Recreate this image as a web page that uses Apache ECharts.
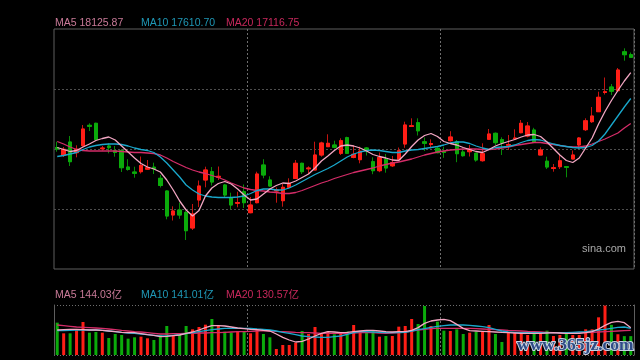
<!DOCTYPE html>
<html><head><meta charset="utf-8">
<script src="https://cdn.jsdelivr.net/npm/echarts@6/dist/echarts.min.js"></script>
<style>html,body{margin:0;padding:0;background:#000}#c{width:640px;height:360px}</style>
</head><body><div id="c"></div>
<script>
// ---- data ----
const categories = Array.from({length: 90}, (_, i) => 'D' + (i + 1));

const opens = [16630,16480,16740,16526,16666,17074,17114,16604,16660,16566,
16570,16240,16140,16146,16196,16236,16014,15760,15280,15380,
15330,15020,15580,15980,16146,16036,15880,15630,15514,15746,
15326,15526,16280,15980,15760,15566,15834,16010,16314,16204,
16180,16480,16646,16680,16514,16826,16430,16386,16620,16346,
16166,16396,16264,16394,16700,17050,17126,16744,16690,16614,
16546,16766,16746,16540,16546,16514,16366,16794,16914,16786,
16674,16806,16926,16860,16980,16480,16356,16210,16246,16246,
16400,16680,16986,17146,17346,17730,17840,17766,18544,18486];
const closes = [16600,16594,16346,16594,17000,17054,16790,16620,16626,16530,
16226,16190,16114,16270,16224,16206,15870,15260,15360,15280,
14966,15300,15860,16180,15940,16054,15680,15480,15530,15526,
15480,16100,16080,15860,15780,15834,15914,16314,16146,16220,
16480,16720,16714,16634,16766,16514,16494,16556,16564,16166,
16430,16220,16326,16566,17080,17066,16964,16714,16710,16526,
16530,16840,16506,16466,16594,16380,16506,16900,16726,16720,
16690,16820,17114,17060,16736,16580,16240,16226,16364,16234,
16480,16820,17164,17260,17634,17746,17756,18180,18486,18434];
const lows = [16546,16440,16260,16434,16646,16960,16780,16566,16514,16446,
16140,16166,16026,16110,16180,16100,15830,15194,15170,15204,
14780,14980,15440,15834,15870,15980,15630,15394,15434,15420,
15314,15514,16014,15846,15526,15446,15814,16000,16100,16100,
16180,16446,16646,16614,16480,16500,16414,16314,16470,16096,
16136,16126,16240,16360,16624,17040,16870,16560,16614,16514,
16424,16746,16336,16446,16450,16346,16346,16780,16680,16480,
16580,16780,16914,16834,16726,16480,16200,16146,16200,16034,
16394,16604,16960,17120,17346,17690,17680,17766,18366,18434];
const highs = [16746,16640,16860,16674,17080,17114,17126,16660,16714,16660,
16600,16396,16246,16450,16380,16326,16080,15770,15454,15526,
15360,15500,15970,16246,16240,16250,15900,15726,15746,15890,
15640,16146,16396,16054,15830,15900,16014,16380,16326,16254,
16746,16746,16894,16766,16814,16846,16670,16646,16640,16434,
16530,16500,16460,16630,17146,17214,17214,16830,16794,16646,
16646,16956,16780,16614,16680,16530,16714,17000,16930,16834,
16880,16994,17180,17140,17024,16634,16446,16300,16500,16246,
16570,16840,17214,17440,17746,18030,17900,18220,18614,18530];

const ma5 = [16630,16590,16550,16570,16640,16700,16770,16810,16840,16780,
16660,16540,16420,16310,16240,16200,16140,15980,15780,15560,
15380,15260,15370,15660,15820,15910,15950,15900,15800,15680,
15580,15600,15700,15800,15870,15920,15910,15960,16030,16100,
16220,16360,16460,16570,16660,16680,16660,16620,16560,16490,
16450,16420,16380,16370,16500,16650,16780,16870,16910,16850,
16750,16710,16680,16630,16590,16550,16530,16590,16660,16710,
16750,16790,16840,16880,16890,16850,16740,16610,16480,16370,
16330,16420,16620,16820,17100,17350,17570,17770,17960,18126];
const ma10 = [16450,16470,16500,16530,16590,16640,16670,16690,16700,16700,
16690,16660,16620,16590,16570,16530,16440,16320,16180,16040,
15880,15780,15700,15660,15640,15630,15630,15630,15640,15660,
15710,15770,15800,15800,15780,15780,15820,15880,15950,16020,
16090,16150,16210,16280,16360,16440,16500,16540,16570,16580,
16570,16550,16530,16530,16560,16580,16590,16610,16630,16650,
16680,16720,16740,16740,16710,16660,16620,16590,16630,16640,
16650,16680,16730,16770,16790,16780,16740,16700,16670,16650,
16630,16620,16630,16670,16760,16900,17080,17260,17440,17610];
const ma20 = [16750,16700,16640,16590,16570,16560,16560,16560,16560,16560,
16550,16540,16530,16530,16520,16510,16480,16420,16350,16290,
16230,16180,16140,16110,16070,16030,15980,15920,15870,15820,
15790,15770,15760,15740,15730,15710,15710,15730,15770,15820,
15870,15920,15960,16010,16050,16090,16130,16160,16190,16220,
16260,16290,16320,16340,16370,16400,16440,16480,16510,16540,
16560,16580,16590,16600,16600,16600,16590,16590,16600,16620,
16640,16670,16690,16710,16730,16730,16710,16690,16670,16650,
16640,16640,16660,16700,16750,16800,16860,16920,17020,17110];

// volume in 亿
const volumes = [171.4,114.9,114.9,136.1,174.9,118.4,121.9,118.4,90.1,111.3,
106.0,86.6,93.7,97.2,88.4,79.5,106.0,153.7,100.7,106.0,
153.7,136.1,148.4,160.8,190.8,153.7,123.7,118.4,127.2,123.7,
114.9,136.1,111.3,93.7,31.8,53.0,53.0,65.4,127.2,111.3,
148.4,114.9,123.7,109.6,114.9,123.7,159.0,123.7,123.7,129.0,
97.2,100.7,100.7,150.2,153.7,190.8,164.3,259.7,153.7,176.7,
129.0,127.2,136.1,111.3,118.4,123.7,123.7,159.0,111.3,68.9,
118.4,118.4,118.4,106.0,123.7,118.4,129.0,100.7,106.0,114.9,
106.0,106.0,136.1,136.1,199.7,262.0,160.0,110.0,100.0,100.0];
const volMa5 = [132.5,134.3,136.0,136.0,134.3,132.5,132.5,130.7,127.2,123.7,
120.1,118.4,118.4,113.1,107.8,104.2,97.2,98.9,102.5,106.0,
114.8,121.9,132.5,144.9,155.5,155.5,153.7,148.4,143.1,139.6,
136.0,134.3,130.7,127.2,111.3,93.6,79.5,68.9,72.4,84.8,
100.7,114.8,123.7,121.9,118.4,120.1,123.7,127.2,130.7,130.7,
127.2,123.7,121.9,123.7,123.7,130.7,144.9,167.8,180.2,185.5,
189.0,182.0,162.5,141.3,129.0,127.2,125.4,123.7,121.9,120.1,
118.4,116.6,114.8,114.8,114.8,114.8,116.6,118.4,116.6,114.8,
114.8,114.8,118.4,123.7,137.8,157.2,173.1,178.4,171.4,144.0];
const volMa10 = [129.0,129.0,130.7,132.5,132.5,132.5,132.5,130.7,127.2,123.7,
120.1,116.6,114.8,111.3,107.8,104.2,100.7,100.7,104.2,107.8,
113.1,118.4,123.7,129.0,134.3,137.8,141.3,141.3,141.3,141.3,
141.3,137.8,136.0,132.5,127.2,120.1,114.8,107.8,100.7,97.2,
95.4,93.6,93.6,97.2,100.7,109.5,118.4,123.7,123.7,121.9,
120.1,118.4,118.4,118.4,120.1,127.2,134.3,139.6,146.6,151.9,
155.5,159.0,159.0,159.0,157.2,153.7,150.2,144.9,136.0,127.2,
121.9,120.1,118.4,118.4,118.4,118.4,118.4,118.4,118.4,118.4,
120.1,121.9,123.7,127.2,132.5,136.0,141.3,146.6,148.4,141.0];
const volMa20 = [159.0,155.5,151.9,148.4,146.6,144.9,143.1,141.3,137.8,134.3,
130.7,127.2,123.7,121.9,118.4,114.8,111.3,111.3,113.1,113.1,
114.8,114.8,116.6,116.6,118.4,118.4,120.1,121.9,123.7,123.7,
125.4,127.2,129.0,127.2,125.4,123.7,121.9,120.1,118.4,118.4,
116.6,114.8,114.8,114.8,114.8,114.8,116.6,118.4,118.4,118.4,
116.6,114.8,116.6,118.4,121.9,127.2,132.5,136.0,139.6,141.3,
141.3,141.3,141.3,141.3,141.3,139.6,137.8,136.0,134.3,132.5,
130.7,129.0,127.2,125.4,123.7,121.9,120.1,118.4,116.6,114.8,
116.6,118.4,118.4,120.1,121.9,123.7,125.4,127.2,129.0,130.6];

const priceLegend = ['MA5 18125.87', 'MA10 17610.70', 'MA20 17116.75'];
const volumeLegend = ['MA5 144.03亿', 'MA10 141.01亿', 'MA20 130.57亿'];
const watermarkText = 'www.365jz.com';
const sourceText = 'sina.com';

// ---- styles ----
const RED = '#ff1e16', GREEN = '#0bab0b';
const RED_WICK = '#c41410', GREEN_WICK = '#078c07';
const C_MA5 = '#f2a6c2', C_MA10 = '#19a8cc', C_MA20 = '#d42c68';
const T_MA5 = '#c97a98', T_MA10 = '#1f98b6', T_MA20 = '#c8285c';

const ohlc = opens.map((o, i) => [o, closes[i], lows[i], highs[i]]);
const bodies = opens.map((o, i) => [o, closes[i], Math.min(o, closes[i]), Math.max(o, closes[i])]);
const volData = volumes.map((v, i) => ({ value: v, itemStyle: { color: closes[i] >= opens[i] ? RED : GREEN } }));

const hidden = { axisLine: { show: false }, axisTick: { show: false }, axisLabel: { show: false } };
const vsplit = { show: true, interval: (idx) => idx === 30 || idx === 60, lineStyle: { color: '#6e6e6e', type: [2, 2], width: 1 } };

const chart = echarts.init(document.getElementById('c'), null, { renderer: 'canvas' });
const font = '10.5px "Liberation Sans", Arial, sans-serif';
const legendX = [55, 141, 226];
const graphics = [];
priceLegend.forEach((t, k) => graphics.push({ type: 'text', left: legendX[k], top: 18, style: { text: t, fill: [T_MA5, T_MA10, T_MA20][k], font: font } }));
volumeLegend.forEach((t, k) => graphics.push({ type: 'text', left: legendX[k], top: 290, style: { text: t, fill: [T_MA5, T_MA10, T_MA20][k], font: '10.5px "Liberation Sans", "Noto Sans CJK SC", sans-serif' } }));
graphics.push({ type: 'text', left: 582, top: 243, style: { text: sourceText, fill: '#a8a8a8', font: '11px "Liberation Sans", Arial, sans-serif' } });
graphics.push({ type: 'text', left: 516, top: 335, z: 100, style: { text: watermarkText, fill: '#2e4c86', stroke: '#c6d2e2', lineWidth: 2, font: 'bold 17.5px "Liberation Serif", serif' } });

const lineS = (name, data, color, xi, yi) => ({ name, type: 'line', xAxisIndex: xi, yAxisIndex: yi, data, symbol: 'none', smooth: false, z: 5,
  lineStyle: { color, width: 1.3 }, itemStyle: { color } });

chart.setOption({
  backgroundColor: '#000',
  animation: false,
  grid: [
    { left: 54, top: 29, width: 580, height: 240, show: true, borderColor: '#5e5e5e', borderWidth: 1, backgroundColor: 'transparent' },
    { left: 54, top: 305, width: 580, height: 50, show: false }
  ],
  xAxis: [
    Object.assign({ type: 'category', gridIndex: 0, data: categories, boundaryGap: true, splitLine: vsplit }, hidden),
    Object.assign({ type: 'category', gridIndex: 1, data: categories, boundaryGap: true, splitLine: vsplit }, hidden)
  ],
  yAxis: [
    Object.assign({ type: 'value', gridIndex: 0, min: 14200, max: 19000, interval: 1200, scale: true,
      splitLine: { show: true, showMinLine: false, showMaxLine: false, lineStyle: { color: '#4e4e4e', type: [2, 2] } } }, hidden),
    { type: 'value', gridIndex: 1, min: 0, max: 265, interval: 265, position: 'left',
      axisLine: { show: true, lineStyle: { color: '#5e5e5e' } }, axisTick: { show: false }, axisLabel: { show: false },
      splitLine: { show: true, lineStyle: { color: '#6e6e6e', type: [1, 2] } } },
    { type: 'value', gridIndex: 1, min: 0, max: 265, position: 'right',
      axisLine: { show: true, lineStyle: { color: '#5e5e5e' } }, axisTick: { show: false }, axisLabel: { show: false }, splitLine: { show: false } }
  ],
  graphic: graphics,
  series: [
    { name: 'wick', type: 'candlestick', xAxisIndex: 0, yAxisIndex: 0, data: ohlc, barWidth: 4,
      itemStyle: { color: RED_WICK, color0: GREEN_WICK, borderColor: RED_WICK, borderColor0: GREEN_WICK, borderWidth: 1 } },
    { name: 'body', type: 'candlestick', xAxisIndex: 0, yAxisIndex: 0, data: bodies, barWidth: 4,
      itemStyle: { color: RED, color0: GREEN, borderColor: RED, borderColor0: GREEN, borderWidth: 1 } },
    lineS('MA20', ma20, C_MA20, 0, 0),
    lineS('MA10', ma10, C_MA10, 0, 0),
    lineS('MA5', ma5, C_MA5, 0, 0),
    { name: 'VOL', type: 'bar', xAxisIndex: 1, yAxisIndex: 1, data: volData, barWidth: 3 },
    lineS('VMA20', volMa20, C_MA20, 1, 1),
    lineS('VMA10', volMa10, C_MA10, 1, 1),
    lineS('VMA5', volMa5, C_MA5, 1, 1)
  ]
});
</script></body></html>
